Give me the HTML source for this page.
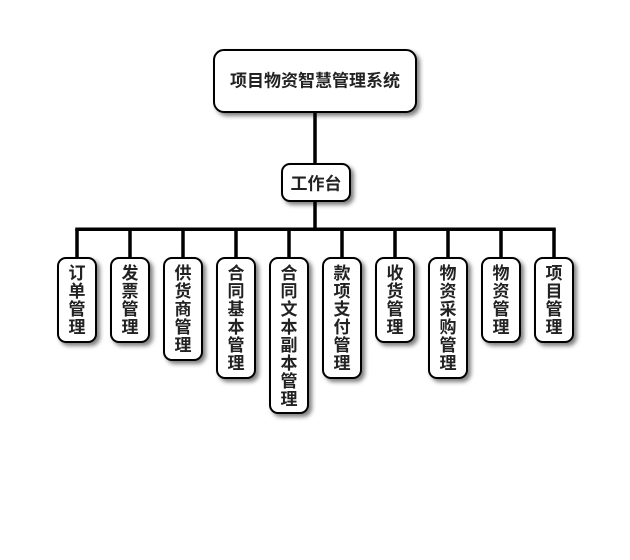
<!DOCTYPE html>
<html>
<head>
<meta charset="utf-8">
<style>
  html, body { margin:0; padding:0; background:#fff; }
  svg { display:block; }
  text { font-family: "Liberation Sans", "Noto Sans CJK SC", sans-serif; font-weight:bold; fill:#222; }
</style>
</head>
<body>
<svg width="630" height="560" viewBox="0 0 630 560" xmlns="http://www.w3.org/2000/svg">
  <defs>
    <filter id="sh" x="-30%" y="-30%" width="160%" height="160%">
      <feDropShadow dx="3" dy="3" stdDeviation="2" flood-color="#000" flood-opacity="0.5"/>
    </filter>
  </defs>
  <rect x="0" y="0" width="630" height="560" fill="#fff"/>

  <!-- connectors -->
  <g stroke="#000" stroke-width="3.5" fill="none">
    <line x1="315" y1="111" x2="315" y2="164"/>
    <line x1="315" y1="201" x2="315" y2="229"/>
    <line x1="75.25" y1="229.25" x2="555.75" y2="229.25"/>
    <line x1="77" y1="229" x2="77" y2="258"/>
    <line x1="130" y1="229" x2="130" y2="258"/>
    <line x1="183" y1="229" x2="183" y2="258"/>
    <line x1="236" y1="229" x2="236" y2="258"/>
    <line x1="289" y1="229" x2="289" y2="258"/>
    <line x1="342" y1="229" x2="342" y2="258"/>
    <line x1="395" y1="229" x2="395" y2="258"/>
    <line x1="448" y1="229" x2="448" y2="258"/>
    <line x1="501" y1="229" x2="501" y2="258"/>
    <line x1="554" y1="229" x2="554" y2="258"/>
  </g>

  <!-- top box -->
  <rect x="214" y="50" width="202" height="62" rx="10" ry="10" fill="#fff" stroke="#000" stroke-width="2" filter="url(#sh)"/>
  <text x="315" y="81" font-size="17" text-anchor="middle" dominant-baseline="central">项目物资智慧管理系统</text>

  <!-- workbench -->
  <rect x="282" y="164" width="68" height="37" rx="8" ry="8" fill="#fff" stroke="#000" stroke-width="2" filter="url(#sh)"/>
  <text x="316" y="184" font-size="17" text-anchor="middle" dominant-baseline="central">工作台</text>

  <!-- children -->
  <g fill="#fff" stroke="#000" stroke-width="2" filter="url(#sh)">
    <rect x="58" y="258" width="38" height="84" rx="8" ry="8"/>
    <rect x="111" y="258" width="38" height="84" rx="8" ry="8"/>
    <rect x="164" y="258" width="38" height="102" rx="8" ry="8"/>
    <rect x="217" y="258" width="38" height="120" rx="8" ry="8"/>
    <rect x="270" y="258" width="38" height="155" rx="8" ry="8"/>
    <rect x="323" y="258" width="38" height="120" rx="8" ry="8"/>
    <rect x="376" y="258" width="38" height="84" rx="8" ry="8"/>
    <rect x="429" y="258" width="38" height="120" rx="8" ry="8"/>
    <rect x="482" y="258" width="38" height="84" rx="8" ry="8"/>
    <rect x="535" y="258" width="38" height="84" rx="8" ry="8"/>
  </g>

  <g font-size="17" text-anchor="middle" dominant-baseline="central">
    <text x="77"><tspan x="77" y="273">订</tspan><tspan x="77" y="291">单</tspan><tspan x="77" y="309">管</tspan><tspan x="77" y="327">理</tspan></text>
    <text x="130"><tspan x="130" y="273">发</tspan><tspan x="130" y="291">票</tspan><tspan x="130" y="309">管</tspan><tspan x="130" y="327">理</tspan></text>
    <text x="183"><tspan x="183" y="273">供</tspan><tspan x="183" y="291">货</tspan><tspan x="183" y="309">商</tspan><tspan x="183" y="327">管</tspan><tspan x="183" y="345">理</tspan></text>
    <text x="236"><tspan x="236" y="273">合</tspan><tspan x="236" y="291">同</tspan><tspan x="236" y="309">基</tspan><tspan x="236" y="327">本</tspan><tspan x="236" y="345">管</tspan><tspan x="236" y="363">理</tspan></text>
    <text x="289"><tspan x="289" y="273">合</tspan><tspan x="289" y="291">同</tspan><tspan x="289" y="309">文</tspan><tspan x="289" y="327">本</tspan><tspan x="289" y="345">副</tspan><tspan x="289" y="363">本</tspan><tspan x="289" y="381">管</tspan><tspan x="289" y="399">理</tspan></text>
    <text x="342"><tspan x="342" y="273">款</tspan><tspan x="342" y="291">项</tspan><tspan x="342" y="309">支</tspan><tspan x="342" y="327">付</tspan><tspan x="342" y="345">管</tspan><tspan x="342" y="363">理</tspan></text>
    <text x="395"><tspan x="395" y="273">收</tspan><tspan x="395" y="291">货</tspan><tspan x="395" y="309">管</tspan><tspan x="395" y="327">理</tspan></text>
    <text x="448"><tspan x="448" y="273">物</tspan><tspan x="448" y="291">资</tspan><tspan x="448" y="309">采</tspan><tspan x="448" y="327">购</tspan><tspan x="448" y="345">管</tspan><tspan x="448" y="363">理</tspan></text>
    <text x="501"><tspan x="501" y="273">物</tspan><tspan x="501" y="291">资</tspan><tspan x="501" y="309">管</tspan><tspan x="501" y="327">理</tspan></text>
    <text x="554"><tspan x="554" y="273">项</tspan><tspan x="554" y="291">目</tspan><tspan x="554" y="309">管</tspan><tspan x="554" y="327">理</tspan></text>
  </g>
</svg>
</body>
</html>
